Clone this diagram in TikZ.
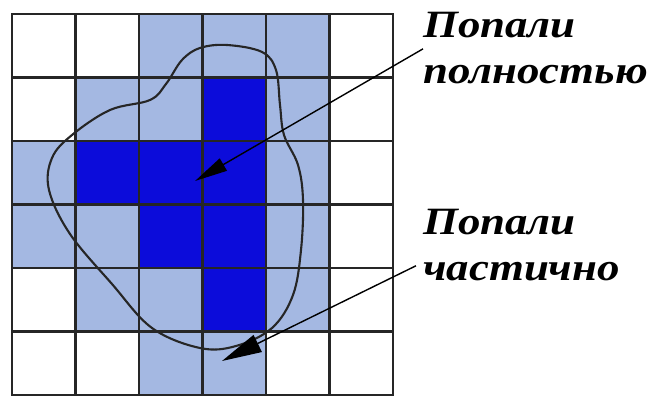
\documentclass[tikz,border=0pt]{standalone}
\usepackage{fontspec}
\setmainfont{Liberation Serif}
\newfontfamily\capfont[FakeStretch=1.16]{Liberation Serif}
\usetikzlibrary{arrows.meta, positioning}

\definecolor{fullblue}{RGB}{12,12,218}
\definecolor{partblue}{RGB}{164,184,226}

\begin{document}
\begin{tikzpicture}[
    x=0.03cm, y=-0.03cm,
    cellline/.style = {line width=2.1pt, black!85, line cap=rect},
    blob/.style     = {line width=1.8pt, black!85},
    caption/.style  = {font=\capfont\fontsize{33}{39}\selectfont\bfseries\itshape,
                       inner sep=0pt, anchor=south west, align=left},
    pointer/.style  = {line width=1.2pt, black},
]
\useasboundingbox (0,0) rectangle (656,400);

% cells hit partly / fully
\foreach \c/\r in {2/0,3/0,4/0,1/1,2/1,4/1,0/2,4/2,0/3,1/3,4/3,1/4,2/4,4/4,2/5,3/5}
  \fill[partblue] ({12+63.5*\c},{14+63.5*\r}) rectangle ++(63.5,63.5);
\foreach \c/\r in {3/1,1/2,2/2,3/2,2/3,3/3,3/4}
  \fill[fullblue] ({12+63.5*\c},{14+63.5*\r}) rectangle ++(63.5,63.5);

% grid
\foreach \i in {0,...,6} {
  \draw[cellline] ({12+63.5*\i},14) -- ({12+63.5*\i},395);
  \draw[cellline] (12,{14+63.5*\i}) -- (393,{14+63.5*\i});
}

% figure outline
\draw[blob] plot[smooth cycle, tension=0.6] coordinates {
  (227,45) (262,52) (276,70) (280,105) (284,135) (298,165) (303,200)
  (301,250) (293,295) (272,328) (236,346) (200,348) (152,328)
  (112,284) (70,234) (49,190) (52,158) (72,135) (110,110)
  (150,100) (166,84) (182,60) (200,48)};

% labels
\node[caption] (full) at (423,84) {Попали\\полностью};
\node[caption] (part) at (423,281) {Попали\\частично};

\coordinate (fulltip) at (195,181);
\coordinate (parttip) at (222,361);

\draw[pointer, -{Triangle[length=28pt,width=12pt]}] ([yshift=30pt]full.south west) -- (fulltip);
\draw[pointer, -{Triangle[length=34pt,width=16pt]}] ([xshift=-6pt, yshift=13pt]part.south west) -- (parttip);

\end{tikzpicture}
\end{document}
